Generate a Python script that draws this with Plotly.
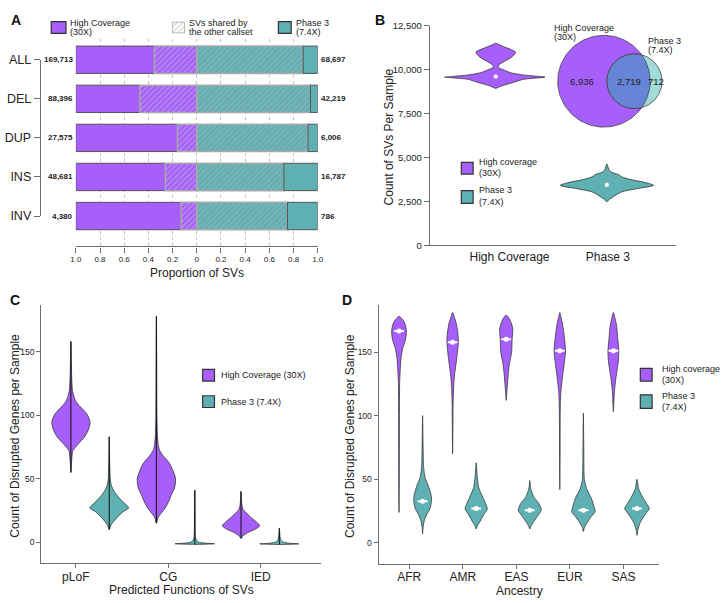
import numpy as np
import plotly.graph_objects as go

W, H = 724, 603
FONT = "Liberation Sans, Arial, Helvetica, sans-serif"
TXT = "#222222"
AXC = "#6e6e6e"
PURPLE = "#A65FFA"
TEAL = "#5FB0B3"
TEAL_LIGHT = "#A0DAD9"
OVERLAP = "#6785D6"
EDGE = "#333333"

# ===================== DATA =====================
# Panel A
sv_types = ["ALL", "DEL", "DUP", "INS", "INV"]
hc_counts = [169713, 88396, 27575, 48681, 4380]
p3_counts = [68697, 42219, 6006, 16787, 786]
hc_shared_prop = [0.35, 0.47, 0.16, 0.26, 0.13]
p3_shared_prop = [0.88, 0.94, 0.92, 0.72, 0.75]
prop_tickvals = [-1.0, -0.8, -0.6, -0.4, -0.2, 0.0, 0.2, 0.4, 0.6, 0.8, 1.0]
prop_ticktext = ["1.0", "0.8", "0.6", "0.4", "0.2", "0", "0.2", "0.4", "0.6", "0.8", "1.0"]

# Panel B
b_categories = ["High Coverage", "Phase 3"]
b_tickvals = [0, 2500, 5000, 7500, 10000, 12500]
hc_sv_levels = [8930, 9050, 9170, 9300, 9440, 9530, 9560, 9600, 9690, 9820, 10000,
                10100, 10180, 10300, 10500, 10700, 10900, 11000, 11150, 11300, 11420, 11500]
hc_sv_density = [0, 5, 12, 20, 28, 45, 52, 45, 28, 15, 7,
                 3, 2.5, 4, 10, 16, 19.5, 20, 15, 8, 3, 0]
hc_sv_median = 9600
p3_sv_levels = [2480, 2630, 2820, 3040, 3220, 3410, 3560, 3740, 3900, 4020, 4150, 4300, 4500, 4630]
p3_sv_density = [0, 3, 8, 15, 30, 47.5, 40, 24, 15, 12, 5, 2, 1, 0]
p3_sv_median = 3450
venn_hc_only = 6936
venn_shared = 2719
venn_p3_only = 712

# Panel C
c_categories = ["pLoF", "CG", "IED"]
gene_tickvals = [0, 50, 100, 150]
c_hc_levels = [
    [55, 65, 72, 77, 83, 89, 94.5, 100, 104, 107, 111, 115, 120, 130, 145, 158],
    [15, 19, 21, 27, 33, 37, 43, 50, 56, 62.5, 68, 72, 76, 85, 100, 140, 178],
    [3, 5, 8, 10.5, 13, 15, 17, 19.5, 22, 24, 26, 30, 35, 40],
]
c_hc_density = [
    [0, 0.8, 2, 7, 14, 18, 19.5, 17, 13, 9, 5, 3, 1.5, 0.8, 0.4, 0],
    [0, 1.5, 3, 9, 13, 15, 18.5, 19.5, 17, 13, 7, 3.5, 2, 1, 0.5, 0.3, 0],
    [0, 2, 8, 15, 19, 17, 14, 10, 7, 4, 2, 0.8, 0.4, 0],
]
c_p3_levels = [
    [10, 13, 15, 19.5, 24, 27, 31, 35, 40, 45, 50, 60, 70, 83],
    [-1.7, -1.2, -0.7, 0, 1, 2, 4, 10, 25, 41],
    [-1.8, -1.3, -0.8, 0, 1, 2, 4, 7, 11],
]
c_p3_density = [
    [0, 1.5, 3, 8, 14, 19.7, 15, 10, 5, 2, 1, 0.5, 0.3, 0],
    [0, 20, 10, 4, 2.5, 1.5, 0.7, 0.4, 0.3, 0],
    [0, 20, 10, 4, 2.5, 1.5, 0.7, 0.4, 0],
]

# Panel D
d_categories = ["AFR", "AMR", "EAS", "EUR", "SAS"]
d_hc_levels = [
    [24, 60, 100, 125, 132, 145, 152.6, 160, 166.5, 171.6, 175.5, 178],
    [70, 90, 110, 122, 132, 145, 157.6, 165, 173, 178, 181],
    [112, 118, 127, 139.5, 150, 160, 168, 173, 177, 179],
    [42, 70, 100, 115, 122, 132, 142.5, 151, 162.5, 173, 178, 181],
    [103, 110, 119, 132, 142.5, 151, 160, 170.5, 177, 181],
]
d_hc_density = [
    [0, 0.3, 0.4, 0.6, 1, 2, 3.7, 6.7, 7.5, 6.3, 3.7, 0],
    [0, 0.3, 0.5, 1, 2, 4.2, 5.8, 5.3, 3.5, 1.5, 0],
    [0, 0.6, 1.5, 3, 5.5, 6, 6.7, 5, 2.5, 0],
    [0, 0.3, 0.4, 0.8, 1.5, 3, 4.8, 5.8, 4.5, 2.5, 1, 0],
    [0, 0.5, 1, 3, 5, 5.5, 4.5, 3.3, 1.5, 0],
]
d_hc_medians = [166.5, 157.6, 160, 151, 151]
d_p3_levels = [
    [7, 12, 17, 22, 27, 33, 37.4, 45, 51.4, 60, 76, 100],
    [11, 14, 17, 22, 27, 31, 37.4, 43.7, 52.7, 63],
    [11, 13, 15.6, 20.7, 26, 31, 36, 42.5, 49],
    [9, 12, 15.6, 20.7, 24.6, 28.4, 34.8, 42.5, 50, 76, 102],
    [6, 10, 15.6, 22, 27, 31, 36, 42.5, 50],
]
d_p3_density = [
    [0, 0.5, 1.5, 4, 7.5, 9, 8.7, 5.8, 2.5, 1, 0.5, 0],
    [0, 1.5, 4, 7.5, 11.3, 9.5, 5.8, 2.5, 1, 0],
    [0, 1, 3, 7.5, 11.7, 9.2, 4.2, 1, 0],
    [0, 1, 3.5, 8, 12, 10.8, 8.3, 3.3, 1, 0.4, 0],
    [0, 0.8, 3, 8, 12.5, 9.7, 5.8, 1.7, 0],
]
d_p3_medians = [32.8, 27, 25.6, 25.7, 27]

# ===================== HELPERS =====================
def PX(x):
    return x / W


def PY(y):
    return 1 - y / H


def violin(center, levels, dens, scale, fill, xa, ya, lw=0.8, edge=EDGE):
    lv = list(levels)
    dn = list(dens)
    xs = [center + d * scale for d in dn]
    ys = lv[:]
    xs += [center - d * scale for d in dn[-2:0:-1]]
    ys += lv[-2:0:-1]
    xs.append(xs[0])
    ys.append(ys[0])
    return go.Scatter(x=xs, y=ys, xaxis=xa, yaxis=ya, mode="lines", fill="toself",
                      fillcolor=fill,
                      line=dict(color=edge, width=lw, shape="spline", smoothing=0.7),
                      hoverinfo="skip", showlegend=False)


annotations = []
shapes = []


def text(x, y, s, size=9, xanchor="left", yanchor="middle", angle=0, color=TXT):
    annotations.append(dict(xref="paper", yref="paper", x=PX(x), y=PY(y), text=s,
                            showarrow=False, xanchor=xanchor, yanchor=yanchor,
                            textangle=angle,
                            font=dict(family=FONT, size=size, color=color)))


def square(x0, y0, x1, y1, color):
    shapes.append(dict(type="rect", xref="paper", yref="paper",
                       x0=PX(x0), x1=PX(x1), y0=PY(y1), y1=PY(y0),
                       fillcolor=color, line=dict(color="#333333", width=1.2)))


fig = go.Figure()

# ===================== PANEL A =====================
yidx = list(range(len(sv_types)))
hc_unique = [1 - s for s in hc_shared_prop]
p3_unique = [1 - s for s in p3_shared_prop]
BARW = 0.7
fig.add_trace(go.Bar(orientation="h", y=yidx, x=hc_unique, base=[-1] * len(yidx), width=BARW,
                     marker=dict(color=PURPLE, line=dict(color="#555555", width=1)),
                     xaxis="x", yaxis="y", cliponaxis=False, hoverinfo="skip"))
fig.add_trace(go.Bar(orientation="h", y=yidx, x=hc_shared_prop, base=[-s for s in hc_shared_prop],
                     width=BARW,
                     marker=dict(color=PURPLE, line=dict(color="#aaaaaa", width=1.5),
                                 pattern=dict(shape="/", fillmode="overlay", fgcolor="#cbc3d6",
                                              size=4, solidity=0.33)),
                     xaxis="x", yaxis="y", cliponaxis=False, hoverinfo="skip"))
fig.add_trace(go.Bar(orientation="h", y=yidx, x=p3_shared_prop, base=[0] * len(yidx), width=BARW,
                     marker=dict(color=TEAL, line=dict(color="#aaaaaa", width=1.5),
                                 pattern=dict(shape="/", fillmode="overlay", fgcolor="#b4b4b4",
                                              size=4, solidity=0.35)),
                     xaxis="x", yaxis="y", cliponaxis=False, hoverinfo="skip"))
fig.add_trace(go.Bar(orientation="h", y=yidx, x=p3_unique, base=p3_shared_prop, width=BARW,
                     marker=dict(color=TEAL, line=dict(color="#555555", width=1)),
                     xaxis="x", yaxis="y", cliponaxis=False, hoverinfo="skip"))

for i in yidx:
    annotations.append(dict(xref="x", yref="y", x=-1, y=i, text="<b>%s</b>" % f"{hc_counts[i]:,}",
                            showarrow=False, xanchor="right", xshift=-1,
                            font=dict(family=FONT, size=8, color=TXT)))
    annotations.append(dict(xref="x", yref="y", x=1, y=i, text="<b>%s</b>" % f"{p3_counts[i]:,}",
                            showarrow=False, xanchor="left", xshift=1,
                            font=dict(family=FONT, size=8, color=TXT)))

# bracket axis with category names
fig.add_trace(go.Scatter(x=[0], y=[0], xaxis="x6", yaxis="y6", mode="markers",
                         marker=dict(opacity=0), hoverinfo="skip", showlegend=False))

# hatched legend swatch
fig.add_trace(go.Bar(x=[0.5], y=[1], base=[0], width=[1], xaxis="x7", yaxis="y7",
                     marker=dict(color="white", line=dict(color="#aaaaaa", width=1.5),
                                 pattern=dict(shape="/", fillmode="overlay", fgcolor="#bbbbbb",
                                              size=4, solidity=0.4)),
                     cliponaxis=False, hoverinfo="skip", showlegend=False))

# legend A
square(46, 15, 61, 27, PURPLE)
text(63, 16, "High Coverage")
text(63, 25.5, "(30X)")
text(184, 16, "SVs shared by")
text(184, 25.5, "the other callset")
square(277, 15, 290, 27, TEAL)
text(292.5, 16, "Phase 3")
text(292.5, 25.5, "(7.4X)")
text(194, 272, "Proportion of SVs", size=12, xanchor="center")

# ===================== PANEL B =====================
B_UNIT = 1 / 100.0  # axis units per px
b_centers = [-0.14, 0.99]
fig.add_trace(violin(b_centers[0], hc_sv_levels, hc_sv_density, B_UNIT, PURPLE, "x2", "y2"))
fig.add_trace(violin(b_centers[1], p3_sv_levels, p3_sv_density, B_UNIT, TEAL, "x2", "y2"))
fig.add_trace(go.Scatter(x=b_centers, y=[hc_sv_median, p3_sv_median], xaxis="x2", yaxis="y2",
                         mode="markers",
                         marker=dict(color="white", size=4, line=dict(color="#dddddd", width=0.5)),
                         hoverinfo="skip", showlegend=False))

# Venn diagram
VENN_K = 0.4783
n_hc = venn_hc_only + venn_shared
n_p3 = venn_p3_only + venn_shared
r1 = VENN_K * np.sqrt(n_hc)
r2 = VENN_K * np.sqrt(n_p3)
target = np.pi * VENN_K ** 2 * venn_shared


def lens_area(d):
    a = r1 ** 2 * np.arccos((d * d + r1 * r1 - r2 * r2) / (2 * d * r1))
    b = r2 ** 2 * np.arccos((d * d + r2 * r2 - r1 * r1) / (2 * d * r2))
    c = 0.5 * np.sqrt((-d + r1 + r2) * (d + r1 - r2) * (d - r1 + r2) * (d + r1 + r2))
    return a + b - c


lo, hi = r1 - r2 + 1e-6, r1 + r2 - 1e-6
for _ in range(80):
    mid = (lo + hi) / 2
    if lens_area(mid) > target:
        lo = mid
    else:
        hi = mid
dist = (lo + hi) / 2

t = np.linspace(0, 2 * np.pi, 160)
fig.add_trace(go.Scatter(x=r1 * np.cos(t), y=r1 * np.sin(t), xaxis="x3", yaxis="y3", mode="lines",
                         fill="toself", fillcolor=PURPLE, line=dict(color="#444444", width=0.8),
                         hoverinfo="skip", showlegend=False))
fig.add_trace(go.Scatter(x=dist + r2 * np.cos(t), y=r2 * np.sin(t), xaxis="x3", yaxis="y3",
                         mode="lines", fill="toself", fillcolor=TEAL_LIGHT,
                         line=dict(color="#444444", width=0.8),
                         hoverinfo="skip", showlegend=False))
xc = (dist ** 2 + r1 ** 2 - r2 ** 2) / (2 * dist)
hh = np.sqrt(max(r1 ** 2 - xc ** 2, 0))
phi = np.arctan2(hh, xc - dist)
theta = np.arctan2(hh, xc)
a_small = np.linspace(phi, 2 * np.pi - phi, 100)
a_big = np.linspace(-theta, theta, 60)
lx = np.concatenate([dist + r2 * np.cos(a_small), r1 * np.cos(a_big)])
ly = np.concatenate([r2 * np.sin(a_small), r1 * np.sin(a_big)])
fig.add_trace(go.Scatter(x=lx, y=ly, xaxis="x3", yaxis="y3", mode="lines", fill="toself",
                         fillcolor=OVERLAP, line=dict(color="#444444", width=0.8),
                         hoverinfo="skip", showlegend=False))
venn_label_x = [(-r1 + (dist - r2)) / 2, ((dist - r2) + r1) / 2, (r1 + dist + r2) / 2]
venn_label_t = [f"{venn_hc_only:,}", f"{venn_shared:,}", f"{venn_p3_only:,}"]
for vx, vt in zip(venn_label_x, venn_label_t):
    annotations.append(dict(xref="x3", yref="y3", x=vx, y=0, text=vt, showarrow=False,
                            font=dict(family=FONT, size=9.5, color=TXT)))

text(555, 21.5, "High Coverage")
text(555, 31, "(30X)")
text(651, 34.5, "Phase 3")
text(651, 44, "(7.4X)")

# legend B
square(463, 159, 475, 171, PURPLE)
text(479, 158.5, "High coverage")
text(479, 170, "(30X)")
square(463, 188, 475, 201, TEAL)
text(479, 187.5, "Phase 3")
text(479, 199.5, "(7.4X)")
text(389, 133, "Count of SVs Per Sample", size=12, xanchor="center", angle=-90)

# ===================== PANEL C =====================
C_UNIT = 1 / 94.0
c_hc_pos = [-0.053, 0.872, 1.787]
c_p3_pos = [0.362, 1.287, 2.202]
for k in range(len(c_categories)):
    fig.add_trace(violin(c_hc_pos[k], c_hc_levels[k], c_hc_density[k], C_UNIT, PURPLE, "x4", "y4"))
    fig.add_trace(violin(c_p3_pos[k], c_p3_levels[k], c_p3_density[k], C_UNIT, TEAL, "x4", "y4"))
for k in range(len(c_categories)):
    for pos, lv in ((c_hc_pos[k], c_hc_levels[k]), (c_p3_pos[k], c_p3_levels[k])):
        fig.add_trace(go.Scatter(x=[pos, pos], y=[lv[0], lv[-1]], xaxis="x4", yaxis="y4",
                                 mode="lines", line=dict(color="#1a1a1a", width=1.1),
                                 hoverinfo="skip", showlegend=False))

square(200, 371, 212, 383, PURPLE)
text(217, 377, "High Coverage (30X)")
square(200, 398, 212, 410, TEAL)
text(217, 404, "Phase 3 (7.4X)")
text(178, 597, "Predicted Functions of SVs", size=12, xanchor="center")
text(9, 439, "Count of Disrupted Genes per Sample", size=12, xanchor="center", angle=-90)

# ===================== PANEL D =====================
D_UNIT = 1 / 54.5
D_HC_OFF, D_P3_OFF = -0.19, 0.25
MED_HALF = 5 * D_UNIT
for k in range(len(d_categories)):
    fig.add_trace(violin(k + D_HC_OFF, d_hc_levels[k], d_hc_density[k], D_UNIT, PURPLE, "x5", "y5",
                         edge="#3a3a3a"))
    fig.add_trace(violin(k + D_P3_OFF, d_p3_levels[k], d_p3_density[k], D_UNIT, TEAL, "x5", "y5",
                         edge="#3a3a3a"))
for k in range(len(d_categories)):
    for pos, med in ((k + D_HC_OFF, d_hc_medians[k]), (k + D_P3_OFF, d_p3_medians[k])):
        fig.add_trace(go.Scatter(x=[pos - MED_HALF, pos + MED_HALF], y=[med, med], xaxis="x5",
                                 yaxis="y5", mode="lines", line=dict(color="white", width=2),
                                 hoverinfo="skip", showlegend=False))
        fig.add_trace(go.Scatter(x=[pos], y=[med], xaxis="x5", yaxis="y5", mode="markers",
                                 marker=dict(color="white", size=5), hoverinfo="skip",
                                 showlegend=False))

square(645, 370, 657, 383, PURPLE)
text(665, 370.5, "High coverage")
text(665, 381.5, "(30X)")
square(645, 397, 657, 411, TEAL)
text(665, 398, "Phase 3")
text(665, 410, "(7.4X)")
text(522, 598, "Ancestry", size=12, xanchor="center")
text(350, 439, "Count of Disrupted Genes per Sample", size=12, xanchor="center", angle=-90)

# panel letters
text(3, 3, "<b>A</b>", size=14, yanchor="top", color="#111111")
text(373, 3, "<b>B</b>", size=14, yanchor="top", color="#111111")
text(2, 290, "<b>C</b>", size=14, yanchor="top", color="#111111")
text(340, 290, "<b>D</b>", size=14, yanchor="top", color="#111111")

# ===================== LAYOUT =====================
base_ax = dict(showline=True, linecolor=AXC, linewidth=1.4, ticks="outside", ticklen=4,
               tickcolor=AXC, tickwidth=1, showgrid=False, zeroline=False,
               tickfont=dict(family=FONT, size=9, color=TXT))
hidden = dict(visible=False, showgrid=False, zeroline=False)

fig.update_layout(
    width=W, height=H, margin=dict(l=0, r=0, t=0, b=0),
    paper_bgcolor="white", plot_bgcolor="white", showlegend=False, barmode="overlay",
    font=dict(family=FONT, color=TXT),
    xaxis=dict(base_ax, domain=[PX(71), PX(317)], range=[-1, 1], anchor="y",
               tickvals=prop_tickvals, ticktext=prop_ticktext, ticklen=5,
               tickfont=dict(family=FONT, size=8, color=TXT),
               showgrid=True, gridcolor="#c4c4c4", gridwidth=1, griddash="3px,3px"),
    yaxis=dict(hidden, domain=[PY(245), PY(33)], range=[4.775, -0.525], anchor="x"),
    xaxis6=dict(hidden, domain=[0, 0.02], anchor="y6"),
    yaxis6=dict(base_ax, domain=[PY(214), PY(54)], range=[4, 0], anchor="free",
                position=PX(34.5), ticklen=6, tickvals=yidx, ticktext=sv_types,
                tickfont=dict(family=FONT, size=12.5, color=TXT)),
    xaxis7=dict(hidden, domain=[PX(169), PX(182)], range=[0, 1], anchor="y7"),
    yaxis7=dict(hidden, domain=[PY(27), PY(15)], range=[0, 1], anchor="x7"),
    xaxis2=dict(base_ax, domain=[PX(431), PX(681)], range=[-0.81, 1.69], anchor="y2",
                tickvals=[0, 1], ticktext=b_categories, ticks="",
                tickfont=dict(family=FONT, size=12, color=TXT)),
    yaxis2=dict(base_ax, domain=[PY(244), PY(19)], range=[0, 12500], anchor="x2",
                tickvals=b_tickvals, tickformat=",", ticklen=5,
                tickfont=dict(family=FONT, size=9.5, color=TXT)),
    xaxis3=dict(hidden, domain=[PX(548), PX(680)], range=[-60, 72], anchor="y3"),
    yaxis3=dict(hidden, domain=[PY(128), PY(24)], range=[-52, 52], anchor="x3"),
    xaxis4=dict(base_ax, domain=[PX(36), PX(320)], range=[-0.372, 2.649], anchor="y4",
                tickvals=[0, 1, 2], ticktext=c_categories, ticklabelstandoff=-1,
                tickfont=dict(family=FONT, size=12, color=TXT)),
    yaxis4=dict(base_ax, domain=[PY(569), PY(305)], range=[-16.2, 186.9], anchor="x4",
                tickvals=gene_tickvals, tickfont=dict(family=FONT, size=8.5, color=TXT)),
    xaxis5=dict(base_ax, domain=[PX(379), PX(664)], range=[-0.569, 4.661], anchor="y5",
                tickvals=list(range(len(d_categories))), ticktext=d_categories,
                ticklabelstandoff=-2,
                tickfont=dict(family=FONT, size=12, color=TXT)),
    yaxis5=dict(base_ax, domain=[PY(570), PY(305)], range=[-16.35, 187.0], anchor="x5",
                tickvals=gene_tickvals, tickfont=dict(family=FONT, size=8.5, color=TXT)),
    annotations=annotations,
    shapes=shapes,
)

fig.write_html("out.html", config={"displayModeBar": False},
               post_script="document.body.style.margin='0px';")
